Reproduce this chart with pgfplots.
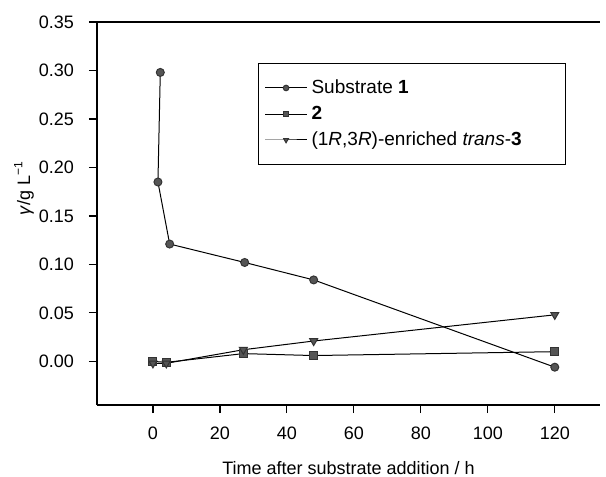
\documentclass[border=0pt]{standalone}
\usepackage{fontspec}
\setmainfont{Liberation Sans}
\usepackage{pgfplots}
\pgfplotsset{compat=1.18}
\definecolor{markgray}{RGB}{85,85,85}
\begin{document}
\begin{tikzpicture}
\useasboundingbox (-48.5pt,-36pt) rectangle (254.5pt,202.5pt);
\begin{axis}[
  scale only axis,
  width=251.5pt, height=191.5pt,
  xmin=-16.7, xmax=133.5,
  ymin=-0.045, ymax=0.35,
  axis x line*=box, axis y line*=left,
  axis line style={-, black, line width=0.6pt},
  xtick={0,20,40,60,80,100,120},
  ytick={0,0.05,0.10,0.15,0.20,0.25,0.30,0.35},
  xtick pos=bottom, ytick pos=left,
  tick align=outside, major tick length=4pt,
  tick style={black, line width=0.6pt},
  /pgf/number format/assume math mode=true,
  yticklabel style={/pgf/number format/fixed, /pgf/number format/precision=2, /pgf/number format/fixed zerofill, xshift=-4pt},
  xticklabel style={yshift=-3.5pt},
  scaled y ticks=false,
  tick label style={font=\fontsize{9}{11}\selectfont},
  label style={font=\fontsize{9}{11}\selectfont},
  xlabel={Time after substrate addition / h},
  xlabel style={at={(axis description cs:0.5,0)}, anchor=center, yshift=-31.5pt},
  ylabel={\textit{γ}/g L\textsuperscript{−1}},
  ylabel style={at={(axis description cs:-0.145,0.567)}, anchor=center, rotate=0},
  legend style={at={(axis description cs:0.32,0.893)}, anchor=north west, draw=black, line width=0.6pt,
    font=\fontsize{9.5}{11}\selectfont, inner xsep=3pt, inner ysep=6pt, row sep=0.8pt,
    cells={anchor=west}},
  legend cell align=left,
  legend image code/.code={
    \draw[mark repeat=2, mark phase=2, #1, mark size=1.4pt]
      plot coordinates {(0pt,0pt) (10.5pt,0pt) (21pt,0pt)};
  },
]
\addplot[black, line width=0.5pt, mark=*, mark size=2pt, mark options={fill=markgray, draw=black!80}] coordinates {
 (2.2,0.298) (1.5,0.185) (5,0.121) (27.4,0.102) (48,0.084) (120,-0.006)};
\addlegendentry{Substrate \textbf{1}}
\addplot[black, line width=0.5pt, mark=square*, mark size=2pt, mark options={fill=markgray, draw=black!80}] coordinates {
 (0,0.000) (4,-0.001) (27,0.008) (48,0.006) (120,0.010)};
\addlegendentry{\textbf{2}}
\addplot[black, line width=0.5pt, mark=triangle*, mark size=2.3pt, mark options={fill=markgray, draw=black!80, rotate=180}] coordinates {
 (0,-0.002) (4,-0.002) (27,0.012) (48,0.021) (120,0.048)};
\addlegendentry{\parbox{122pt}{(1\textit{R},3\textit{R})-enriched \textit{trans}-\textbf{3}}}
\end{axis}
\end{tikzpicture}
\end{document}
